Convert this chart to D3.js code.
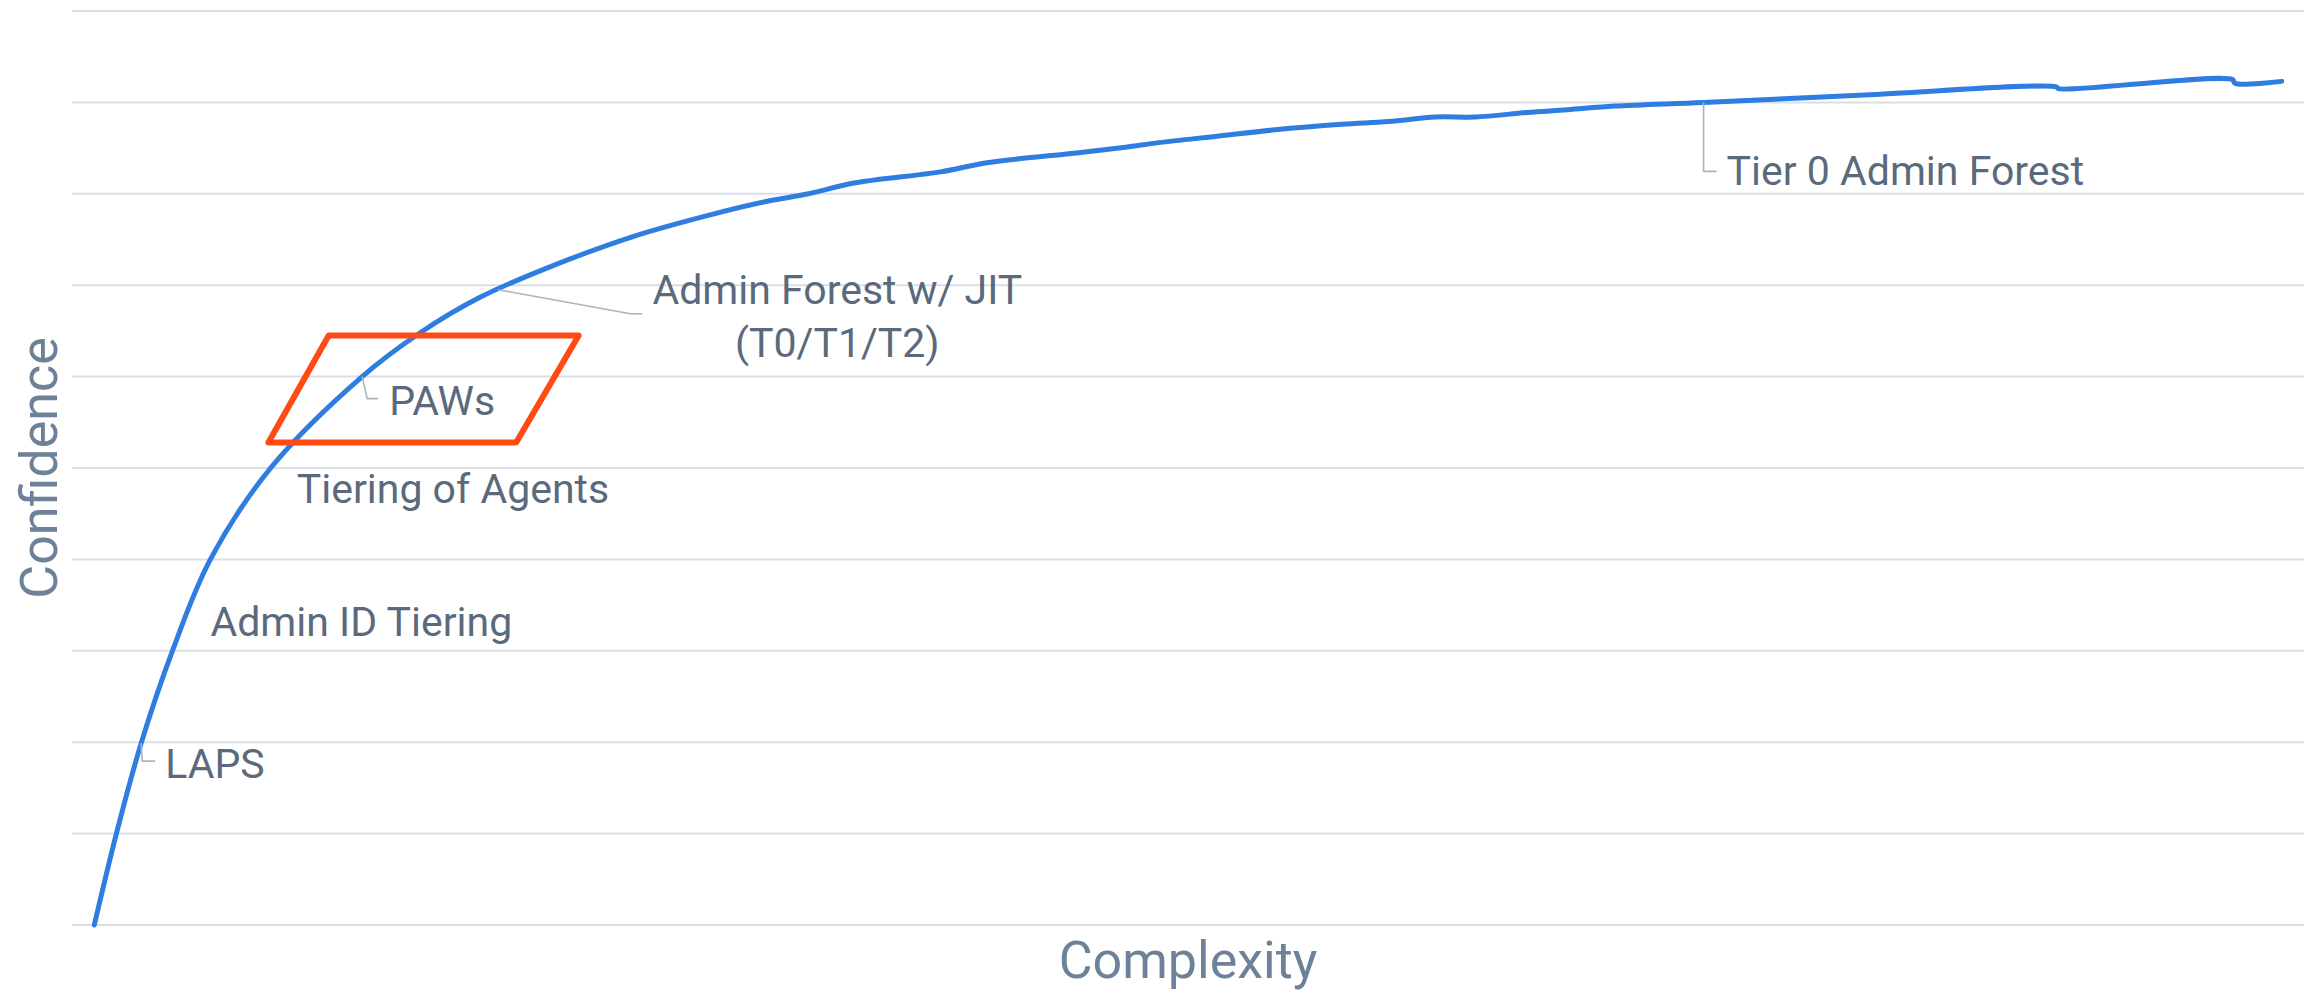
<!DOCTYPE html>
<html lang="en">
<head>
<meta charset="UTF-8">
<title>Confidence vs Complexity</title>
<script src="https://cdn.jsdelivr.net/npm/d3@7"></script>
<style>
    body { margin: 0; background: #fff; }
    svg { display: block; font-family: Roboto, "Noto Sans", sans-serif; }
    .grid line { stroke: #dadfe4; stroke-width: 2; }
    .curve { fill: none; stroke: #2f7de1; stroke-width: 5; stroke-linejoin: round; stroke-linecap: round; }
    .box { fill: none; stroke: #ff4a14; stroke-width: 6; stroke-linejoin: round; }
    .leader { fill: none; stroke: #aab4bf; stroke-width: 1.6; }
    .label { fill: #5a6a7c; font-size: 41px; }
    .axis-title { fill: #6d8298; font-size: 52px; }
</style>
</head>
<body>
<div id="chart"></div>
<script>
    // curve (complexity 0-100, confidence 0-100)
    var complexity = [1.0, 2.0, 3.1, 4.5, 6.2, 8.9, 13.0, 15.6, 18.3, 21.3, 25.1, 28.6, 31.0,
        33.0, 35.1, 38.9, 41.0, 45.1, 47.2, 48.7, 51.3, 53.9, 56.9, 59.0, 61.1, 62.9, 65.2, 67.0,
        69.1, 73.1, 80.3, 88.9, 89.0, 96.8, 96.9, 99.0];
    var confidence = [0, 10.1, 19.9, 30.0, 40.0, 50.0, 60.0, 64.8, 68.7, 71.9, 75.3, 77.7, 79.1,
        80.0, 81.2, 82.4, 83.4, 84.5, 85.1, 85.6, 86.3, 87.0, 87.6, 87.9, 88.4, 88.4, 88.9, 89.2,
        89.6, 90.0, 90.8, 91.7, 91.5, 92.5, 92.1, 92.3];

    var yTicks = [0, 10, 20, 30, 40, 50, 60, 70, 80, 90, 100];

    // labelled points on the curve
    var labelText = [["LAPS"], ["Admin ID Tiering"], ["Tiering of Agents"], ["PAWs"],
        ["Admin Forest w/ JIT", "(T0/T1/T2)"], ["Tier 0 Admin Forest"]];
    var labelX = [3.1, 4.5, 9.8, 13.0, 19.1, 73.1];
    var labelY = [19.9, 30.0, 52.8, 60.0, 69.5, 90.0];

    // highlighted parallelogram (corners in data units)
    var boxX = [11.5, 22.7, 19.9, 8.8];
    var boxY = [64.5, 64.5, 52.8, 52.8];

    // label layout, px offsets from the point
    var labelLayout = [
        { leader: [[0, 0], [1, 18], [14, 18]], dx: 24, dy: 35, anchor: "start" },
        { leader: null, dx: 38, dy: -15, anchor: "start" },
        { leader: null, dx: 6, dy: 61, anchor: "start" },
        { leader: [[0, 0], [5, 22], [16, 22]], dx: 27, dy: 38, anchor: "start" },
        { leader: [[0, 0], [132, 24], [144, 24]], dx: 339, dy: 14, anchor: "middle" },
        { leader: [[0, 0], [0, 69], [13, 69]], dx: 23, dy: 83, anchor: "start" }
    ];

    var W = 2315, H = 990;
    var margin = { top: 11, right: 11, bottom: 65, left: 72 };

    var x = d3.scaleLinear().domain([0, 100]).range([margin.left, W - margin.right]);
    var y = d3.scaleLinear().domain([0, 100]).range([H - margin.bottom, margin.top]);

    var svg = d3.select("#chart").append("svg")
        .attr("width", W)
        .attr("height", H);

    svg.append("g").attr("class", "grid")
        .selectAll("line")
        .data(yTicks)
        .enter().append("line")
        .attr("x1", x(0)).attr("x2", x(100))
        .attr("y1", function (d) { return y(d); })
        .attr("y2", function (d) { return y(d); });

    var pts = complexity.map(function (c, i) { return [c, confidence[i]]; });
    var line = d3.line()
        .curve(d3.curveCatmullRom.alpha(0.5))
        .x(function (d) { return x(d[0]); })
        .y(function (d) { return y(d[1]); });

    svg.append("path").attr("class", "curve").attr("d", line(pts));

    var boxPts = boxX.map(function (v, i) { return [x(v), y(boxY[i])]; });
    svg.append("path").attr("class", "box")
        .attr("d", "M" + boxPts.join("L") + "Z");

    // data labels
    labelText.forEach(function (lines, i) {
        var px = x(labelX[i]), py = y(labelY[i]);
        var lay = labelLayout[i];
        if (lay.leader) {
            svg.append("path").attr("class", "leader")
                .attr("d", "M" + lay.leader.map(function (p) { return [px + p[0], py + p[1]]; }).join("L"));
        }
        var t = svg.append("text").attr("class", "label")
            .attr("text-anchor", lay.anchor)
            .attr("x", px + lay.dx)
            .attr("y", py + lay.dy);
        lines.forEach(function (s, k) {
            t.append("tspan")
                .attr("x", px + lay.dx)
                .attr("dy", k === 0 ? 0 : 53)
                .text(s);
        });
    });

    // axis titles
    svg.append("text").attr("class", "axis-title")
        .attr("text-anchor", "middle")
        .attr("x", (x(0) + x(100)) / 2)
        .attr("y", 978)
        .text("Complexity");

    svg.append("text").attr("class", "axis-title")
        .attr("text-anchor", "middle")
        .attr("transform", "translate(57," + y(50) + ") rotate(-90)")
        .text("Confidence");
</script>
</body>
</html>
